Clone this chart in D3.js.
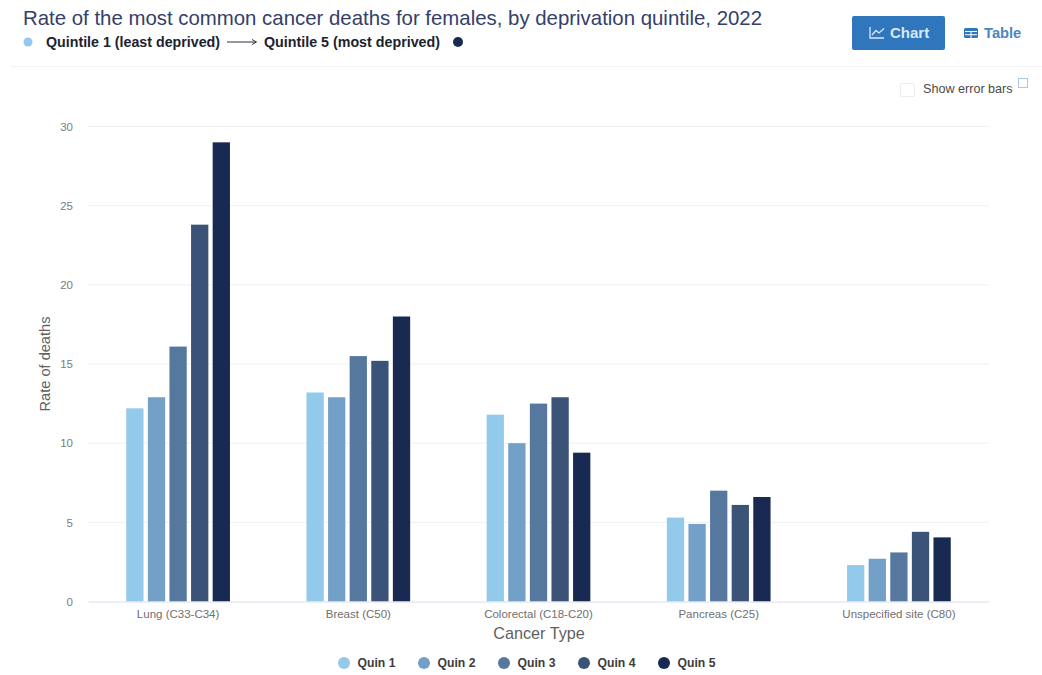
<!DOCTYPE html>
<html><head><meta charset="utf-8">
<script src="https://cdn.jsdelivr.net/npm/d3@7"></script>
<style>html,body{margin:0;padding:0;background:#fff}svg{display:block}text{font-family:"Liberation Sans",Arial,sans-serif}</style>
</head><body><svg id="c" width="1042" height="675"></svg>
<script>
const categories=["Lung (C33-C34)","Breast (C50)","Colorectal (C18-C20)","Pancreas (C25)","Unspecified site (C80)"];
const seriesNames=["Quin 1","Quin 2","Quin 3","Quin 4","Quin 5"];
const quin1=[12.2,13.2,11.8,5.3,2.3];
const quin2=[12.9,12.9,10.0,4.9,2.7];
const quin3=[16.1,15.5,12.5,7.0,3.1];
const quin4=[23.8,15.2,12.9,6.1,4.4];
const quin5=[29.0,18.0,9.4,6.6,4.05];
const seriesValues=[quin1,quin2,quin3,quin4,quin5];
const colors=["#93c9ea","#72a0c6","#56789e","#3a5377","#182a52"];
const yTicks=[0,5,10,15,20,25,30];

const svg=d3.select("#c");
const x=d3.scaleBand().domain(categories).range([88,989]);
const xi=d3.scaleBand().domain(seriesNames).range([0,x.bandwidth()]).paddingInner(.2).paddingOuter(1.77);
const y=d3.scaleLinear().domain([0,30]).range([601.5,126.5]);

// header
svg.append("text").attr("x",23).attr("y",25).attr("font-size",20.4).attr("fill","#34406a").text("Rate of the most common cancer deaths for females, by deprivation quintile, 2022");
svg.append("circle").attr("cx",28).attr("cy",42).attr("r",4.5).attr("fill",colors[0]);
svg.append("text").attr("x",46).attr("y",47).attr("font-size",14.2).attr("font-weight",700).attr("textLength",174).attr("lengthAdjust","spacingAndGlyphs").attr("fill","#1c2230").text("Quintile 1 (least deprived)");
svg.append("path").attr("d","M227 42H256M252 39.5L256.5 42L252 44.5").attr("fill","none").attr("stroke","#2b3040").attr("stroke-width",1);
svg.append("text").attr("x",264).attr("y",47).attr("font-size",14.2).attr("font-weight",700).attr("textLength",176).attr("lengthAdjust","spacingAndGlyphs").attr("fill","#1c2230").text("Quintile 5 (most deprived)");
svg.append("circle").attr("cx",458).attr("cy",42).attr("r",5).attr("fill",colors[4]);
svg.append("line").attr("x1",10).attr("x2",1042).attr("y1",66.5).attr("y2",66.5).attr("stroke","#f3f3f5");

// buttons
svg.append("rect").attr("x",852).attr("y",16).attr("width",93).attr("height",34).attr("rx",2).attr("fill","#2f76bd");
svg.append("path").attr("d","M870 27V38H884M872 35L876 30.5L879 33L884 28.5").attr("fill","none").attr("stroke","#dbe8f5").attr("stroke-width",1.3);
svg.append("text").attr("x",890).attr("y",38).attr("font-size",15).attr("font-weight",700).attr("fill","#dbe8f5").text("Chart");
svg.append("rect").attr("x",964).attr("y",28).attr("width",14).attr("height",10).attr("rx",1.5).attr("fill","#2f76bd");
svg.append("path").attr("d","M965 31.5H977M965 34.7H977M971 31V38").attr("stroke","#fff").attr("stroke-width",1);
svg.append("text").attr("x",984).attr("y",38).attr("font-size",14.7).attr("font-weight",700).attr("fill","#4a86c0").text("Table");

// error toggle
svg.append("rect").attr("x",900.5).attr("y",83.5).attr("width",14).attr("height",13).attr("rx",1).attr("fill","#fff").attr("stroke","#ececec");
svg.append("text").attr("x",923).attr("y",93).attr("font-size",12.6).attr("fill","#4a4a4a").text("Show error bars");
svg.append("rect").attr("x",1018.5).attr("y",78.5).attr("width",9).attr("height",9).attr("fill","#fff").attr("stroke","#a9c7e4");

// grid & y axis
svg.append("g").selectAll("line").data(yTicks.filter(d=>d>0)).join("line")
 .attr("x1",88).attr("x2",989).attr("y1",d=>y(d)).attr("y2",d=>y(d)).attr("stroke","#eff0f3");
const gy=svg.append("g").attr("transform","translate(88,0)").call(d3.axisLeft(y).tickValues(yTicks).tickSize(0).tickPadding(15));
gy.select(".domain").remove();
gy.selectAll("text").attr("font-size",11.5).attr("fill","#7c7c7c").style("font-family",'"Liberation Sans",Arial,sans-serif');

// bars
svg.append("g").selectAll("g").data(seriesValues).join("g").attr("fill",(d,i)=>colors[i])
 .each(function(vals,i){
   d3.select(this).selectAll("rect").data(vals).join("rect")
    .attr("x",(d,j)=>x(categories[j])+xi(seriesNames[i]))
    .attr("width",xi.bandwidth())
    .attr("y",d=>y(d)).attr("height",d=>y(0)-y(d));
 });

// x axis
const gx=svg.append("g").attr("transform","translate(0,601.5)").call(d3.axisBottom(x).tickSize(0).tickPadding(8));
gx.select(".domain").attr("stroke","#dcdcef");
gx.selectAll("text").attr("font-size",11.5).attr("fill","#6f6f6f").style("font-family",'"Liberation Sans",Arial,sans-serif');

svg.append("text").attr("x",539).attr("y",639).attr("text-anchor","middle").attr("font-size",16.2).attr("fill","#5f5f5f").text("Cancer Type");
svg.append("text").attr("transform","translate(50,364) rotate(-90)").attr("text-anchor","middle").attr("font-size",14.6).attr("fill","#5f5f5f").text("Rate of deaths");

// legend
const legendX=d3.scalePoint().domain(seriesNames).range([344,664]);
const lg=svg.append("g").selectAll("g").data(seriesNames).join("g").attr("transform",d=>`translate(${legendX(d)},663)`);
lg.append("circle").attr("r",6).attr("fill",(d,i)=>colors[i]);
lg.append("text").attr("x",13.5).attr("y",4).attr("font-size",12.2).attr("font-weight",700).attr("fill","#3c3c3c").text(d=>d);
</script></body></html>
